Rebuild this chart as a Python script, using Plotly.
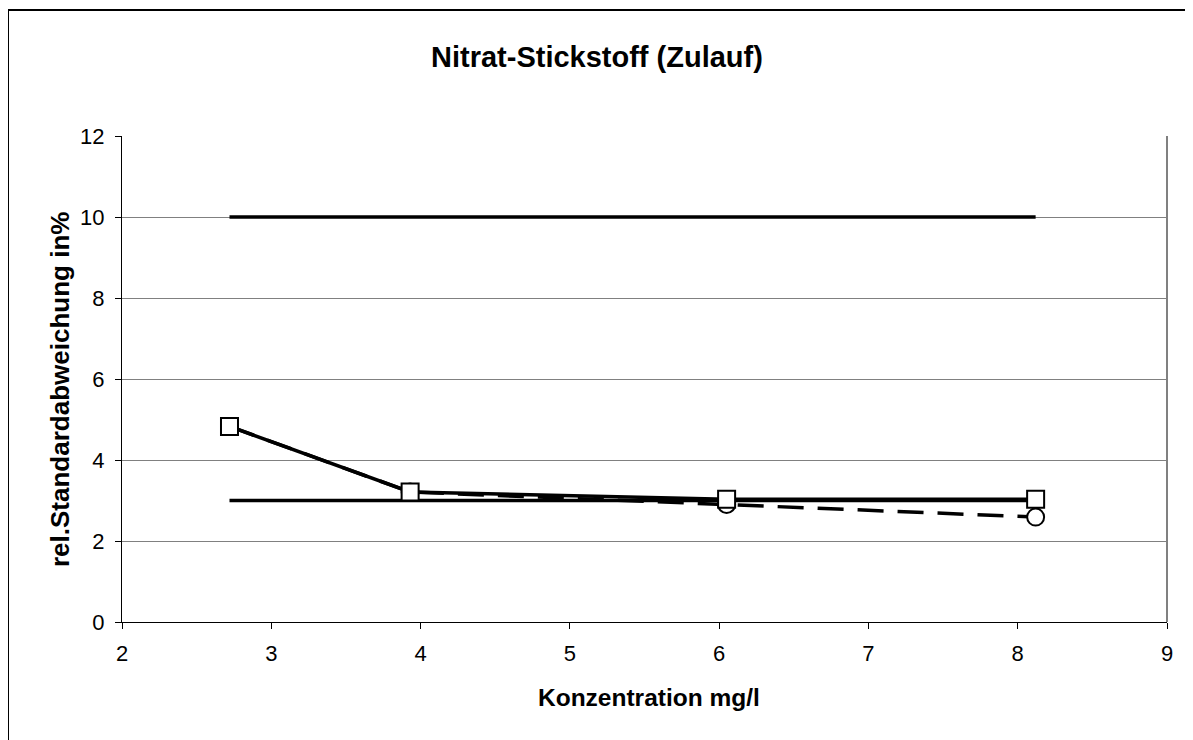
import plotly.graph_objects as go

# Data
conc = [2.72, 3.93, 6.05, 8.12]
rsd_squares = [4.83, 3.21, 3.03, 3.03]
rsd_circles = [4.83, 3.21, 2.90, 2.59]
limit_upper_x = [2.72, 8.12]
limit_upper_y = [10, 10]
limit_lower_x = [2.72, 8.12]
limit_lower_y = [3, 3]

title_text = "Nitrat-Stickstoff (Zulauf)"
x_title = "Konzentration mg/l"
y_title = "rel.Standardabweichung in%"

OFF = 8  # page body margin
W, H = 1193 - OFF, 740 - OFF
L = 122 - OFF
T = 136 - OFF
R = W - (1167 - OFF)
B = H - (622 - OFF)

fig = go.Figure()
fig.add_trace(go.Scatter(x=limit_upper_x, y=limit_upper_y, mode="lines",
                         line=dict(color="black", width=3.5), showlegend=False))
fig.add_trace(go.Scatter(x=limit_lower_x, y=limit_lower_y, mode="lines",
                         line=dict(color="black", width=3.5), showlegend=False))
fig.add_trace(go.Scatter(x=conc, y=rsd_circles, mode="lines+markers",
                         line=dict(color="black", width=3.5, dash="26px,14px"),
                         marker=dict(symbol="circle", size=17, color="white",
                                     line=dict(color="black", width=2)),
                         showlegend=False))
fig.add_trace(go.Scatter(x=conc, y=rsd_squares, mode="lines+markers",
                         line=dict(color="black", width=3.5),
                         marker=dict(symbol="square", size=17, color="white",
                                     line=dict(color="black", width=2)),
                         showlegend=False))

pw = W - L - R
ph = H - T - B
fx = lambda px: (px - OFF - L) / pw          # screen px -> paper x
fy = lambda py: (H - B - (py - OFF)) / ph    # screen px -> paper y

fig.add_shape(type="rect", xref="paper", yref="paper",
              x0=fx(8), x1=fx(1210), y0=fy(780), y1=fy(10),
              line=dict(color="black", width=2), fillcolor="rgba(0,0,0,0)", layer="above")
fig.add_shape(type="line", xref="paper", yref="paper", x0=1, x1=1, y0=0, y1=1,
              line=dict(color="#808080", width=2))

fig.add_annotation(text="<b>" + title_text + "</b>", xref="paper", yref="paper",
                   x=fx(597), y=fy(57), xanchor="center", yanchor="middle",
                   showarrow=False, font=dict(size=29))
fig.add_annotation(text="<b>" + x_title + "</b>", xref="paper", yref="paper",
                   x=fx(649), y=fy(697), xanchor="center", yanchor="middle",
                   showarrow=False, font=dict(size=24.5))
fig.add_annotation(text="<b>" + y_title + "</b>", xref="paper", yref="paper",
                   x=fx(60), y=fy(390), xanchor="center", yanchor="middle",
                   textangle=-90, showarrow=False, font=dict(size=26))

fig.update_layout(
    width=W, height=H,
    margin=dict(l=L, r=R, t=T, b=B),
    paper_bgcolor="white", plot_bgcolor="white",
    font=dict(family="Liberation Sans, Arial, sans-serif", color="black", size=22),
    xaxis=dict(range=[2, 9], dtick=1, showgrid=False, zeroline=False,
               showline=True, linecolor="black", linewidth=1,
               ticks="outside", ticklen=6, tickcolor="black",
               ticklabelstandoff=6, tickfont=dict(size=22)),
    yaxis=dict(range=[0, 12], dtick=2, showgrid=True, gridcolor="#808080", gridwidth=1,
               zeroline=False, showline=True, linecolor="black", linewidth=1,
               ticks="outside", ticklen=6, tickcolor="black",
               ticklabelstandoff=6, tickfont=dict(size=22)),
)

fig.write_html("out.html")
